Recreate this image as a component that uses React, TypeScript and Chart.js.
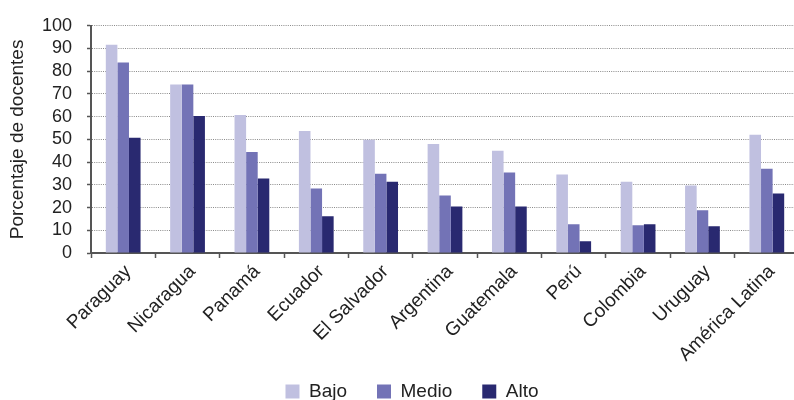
import { useEffect, useRef } from 'react';
import { Chart, registerables } from 'chart.js';

Chart.register(...registerables);

const categories = ['Paraguay', 'Nicaragua', 'Panamá', 'Ecuador', 'El Salvador', 'Argentina', 'Guatemala', 'Perú', 'Colombia', 'Uruguay', 'América Latina'];
const seriesNames = ['Bajo', 'Medio', 'Alto'];
const bajo = [91.7, 74.2, 60.7, 53.7, 49.8, 48.0, 45.0, 34.5, 31.4, 29.7, 52.0];
const medio = [83.8, 74.2, 44.5, 28.4, 34.9, 25.3, 35.4, 12.7, 12.2, 18.8, 37.1];
const alto = [50.7, 60.3, 32.8, 16.2, 31.4, 20.5, 20.5, 5.2, 12.7, 11.8, 26.2];
const yTitle = 'Porcentaje de docentes';

const FONT = "'Liberation Sans', Arial, Helvetica, sans-serif";
const TEXT = '#222222';
const AXIS = '#555555';

const unclipXLabels = {
  id: 'unclipXLabels',
  afterLayout(chart: any) {
    const s = chart.scales.x;
    if (s) s.bottom = chart.height;
  },
};

export default function App() {
  const ref = useRef<HTMLCanvasElement>(null);

  useEffect(() => {
    const canvas = ref.current;
    if (!canvas) return;
    Chart.defaults.font.family = FONT;
    const chart = new Chart(canvas, {
      type: 'bar',
      data: {
        labels: categories,
        datasets: [
          { label: seriesNames[0], data: bajo, backgroundColor: '#c0c0e0' },
          { label: seriesNames[1], data: medio, backgroundColor: '#7373b6' },
          { label: seriesNames[2], data: alto, backgroundColor: '#292970' },
        ],
      },
      plugins: [unclipXLabels],
      options: {
        responsive: false,
        animation: false,
        devicePixelRatio: 1,
        layout: { padding: { left: 25, right: 1, top: 24, bottom: 0 } },
        datasets: {
          bar: { categoryPercentage: 0.54, barPercentage: 1.0, borderWidth: 0 },
        },
        plugins: {
          tooltip: { enabled: false },
          legend: {
            position: 'bottom',
            labels: {
              boxWidth: 14,
              boxHeight: 14,
              padding: 30,
              color: TEXT,
              font: { family: FONT, size: 19 },
            },
          },
        },
        scales: {
          x: {
            afterFit: (scale: any) => {
              const lh = scale.chart.legend ? scale.chart.legend.height : 60;
              scale.height = scale.chart.height - 253 - lh;
            },
            grid: {
              drawOnChartArea: false,
              drawTicks: true,
              offset: true,
              tickLength: 5,
              color: AXIS,
              tickColor: AXIS,
              tickWidth: 1.5,
              tickBorderDash: [],
            },
            border: { display: true, color: AXIS, width: 2 },
            ticks: {
              autoSkip: false,
              minRotation: 45,
              maxRotation: 45,
              padding: 2.5,
              labelOffset: 5,
              color: TEXT,
              font: { family: FONT, size: 19 },
            },
          },
          y: {
            min: 0,
            max: 100,
            afterFit: (scale: any) => {
              scale.width = 91 - 25;
            },
            grid: {
              color: '#8a8a8a',
              lineWidth: 1,
              tickLength: 4,
              tickColor: AXIS,
              tickWidth: 1.5,
              tickBorderDash: [],
            },
            border: { display: true, color: AXIS, width: 2, dash: [1, 1.2] },
            ticks: {
              stepSize: 10,
              autoSkip: false,
              padding: 15,
              color: TEXT,
              font: { family: FONT, size: 18 },
            },
            title: {
              display: true,
              text: yTitle,
              color: TEXT,
              font: { family: FONT, size: 19 },
              padding: { top: -18.9, bottom: 0 },
            },
          },
        },
      },
    });
    return () => chart.destroy();
  }, []);

  return (
    <div style={{ position: 'fixed', left: 0, top: 0, width: 794, height: 400, overflow: 'hidden', background: '#ffffff' }}>
      <canvas ref={ref} width={800} height={411} style={{ display: 'block', width: 800, height: 411 }} />
    </div>
  );
}
